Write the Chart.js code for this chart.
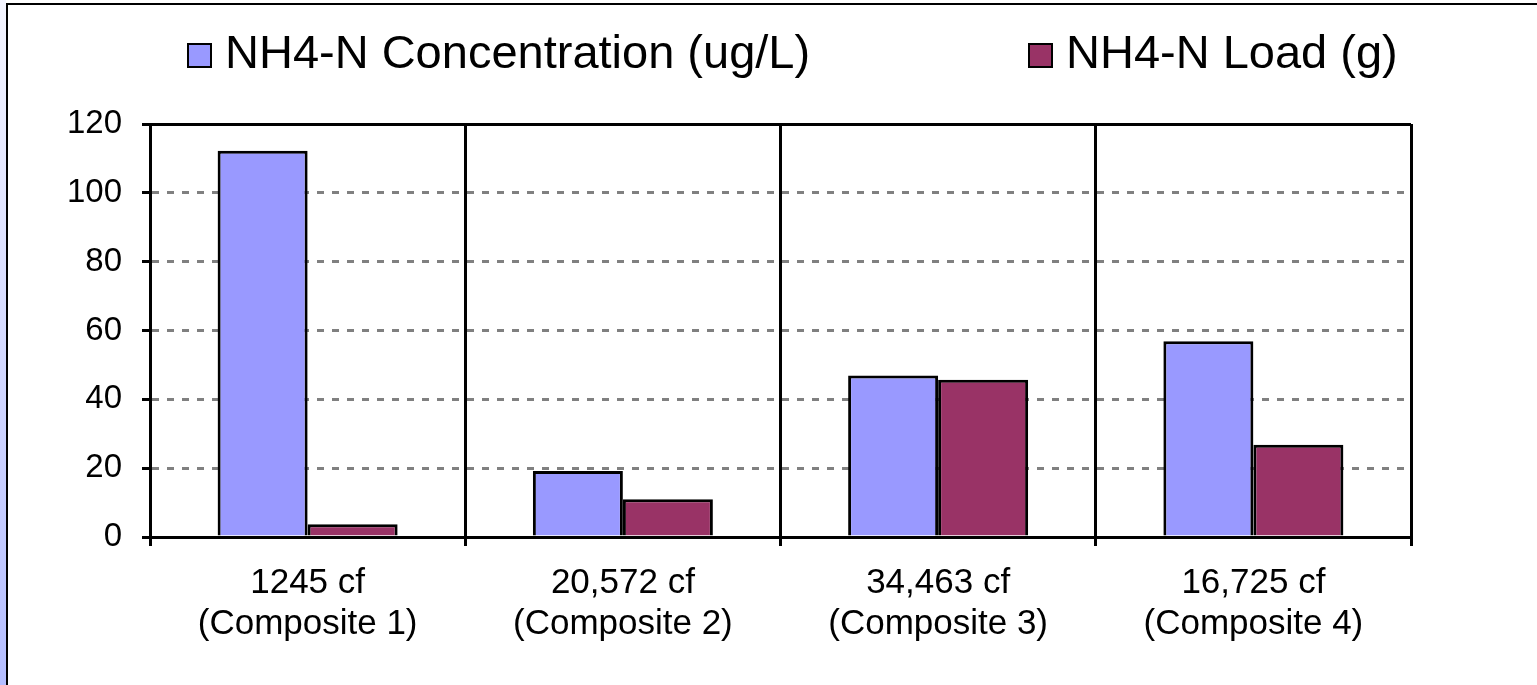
<!DOCTYPE html>
<html>
<head>
<meta charset="utf-8">
<script src="https://cdn.jsdelivr.net/npm/chart.js"></script>
<style>
    body { margin: 0; background: #fff; font-family: "Liberation Sans", Arial, sans-serif; }
    #strip { position: absolute; left: 0; top: 0; width: 6px; height: 685px;
             background: linear-gradient(#f4f5ff, #b4bdff); }
    #frame { position: absolute; left: 6px; top: 3px; right: 0; bottom: 0;
             border-left: 2px solid #000; border-top: 2px solid #000; }
    #wrap { position: absolute; left: 0; top: 0; width: 1537px; height: 685px; }
    .legend-item { position: absolute; top: 25px; height: 54px; line-height: 54px;
                   font-size: 47px; color: #000; white-space: nowrap; }
    .legend-box { position: absolute; top: 18px; width: 21px; height: 21px; border: 2px solid #000; }
</style>
</head>
<body>
<div id="strip"></div>
<div id="frame"></div>
<div id="wrap"><canvas id="chart" width="1537" height="685"></canvas></div>
<div id="legend"></div>

<script>
// ======================
// DATA
// ======================
const categories = [
    ["1245 cf", "(Composite 1)"],
    ["20,572 cf", "(Composite 2)"],
    ["34,463 cf", "(Composite 3)"],
    ["16,725 cf", "(Composite 4)"]
];
const seriesNames = ["NH4-N Concentration (ug/L)", "NH4-N Load (g)"];
const concentration = [112.2, 19.2, 46.9, 56.9];
const load = [3.7, 11.0, 45.7, 26.8];
const yTicks = [0, 20, 40, 60, 80, 100, 120];

const colors = ["#9999ff", "#993366"];
const FONT = "'Liberation Sans', Arial, sans-serif";

// ======================
// LEGEND (html)
// ======================
const legendX = [187, 1028];
const legend = document.getElementById("legend");
seriesNames.forEach((name, i) => {
    const item = document.createElement("div");
    item.className = "legend-item";
    item.style.left = legendX[i] + "px";
    item.style.paddingLeft = "38px";
    const box = document.createElement("span");
    box.className = "legend-box";
    box.style.left = "0px";
    box.style.background = colors[i];
    item.appendChild(box);
    item.appendChild(document.createTextNode(name));
    legend.appendChild(item);
});

// ======================
// CHART
// ======================
const solidAt = v => v === yTicks[0] || v === yTicks[yTicks.length - 1];

new Chart(document.getElementById("chart"), {
    type: "bar",
    data: {
        labels: categories,
        datasets: [
            { label: seriesNames[0], data: concentration, backgroundColor: colors[0] },
            { label: seriesNames[1], data: load, backgroundColor: colors[1] }
        ].map(d => Object.assign(d, {
            borderColor: "#000",
            borderWidth: 3,
            borderSkipped: "start",
            categoryPercentage: 0.571,
            barPercentage: 1.0
        }))
    },
    options: {
        responsive: false,
        animation: false,
        devicePixelRatio: 1,
        layout: { padding: { left: 0, right: 126, top: 124, bottom: 0 } },
        plugins: {
            legend: { display: false },
            tooltip: { enabled: false }
        },
        scales: {
            x: {
                afterFit: s => { s.height = 148; },
                grid: {
                    offset: true,
                    color: "#000",
                    lineWidth: 3,
                    tickLength: 9,
                    tickColor: "#000",
                    tickWidth: 3
                },
                border: { color: "#000", width: 3 },
                ticks: {
                    color: "#000",
                    padding: 17,
                    maxRotation: 0,
                    font: { family: FONT, size: 35, lineHeight: 41 / 35 }
                }
            },
            y: {
                min: 0,
                max: 120,
                afterFit: s => { s.width = 150; },
                afterBuildTicks: s => { s.ticks = yTicks.map(v => ({ value: v })); },
                grid: {
                    color: c => solidAt(c.tick.value) ? "#000" : "#808080",
                    lineWidth: 3,
                    tickLength: 8,
                    tickColor: "#000",
                    tickWidth: 3
                },
                border: {
                    color: "#000",
                    width: 3,
                    dash: c => (c.tick && !solidAt(c.tick.value)) ? [7, 8] : []
                },
                ticks: {
                    color: "#000",
                    padding: 20,
                    font: { family: FONT, size: 33 }
                }
            }
        }
    }
});
</script>
</body>
</html>
